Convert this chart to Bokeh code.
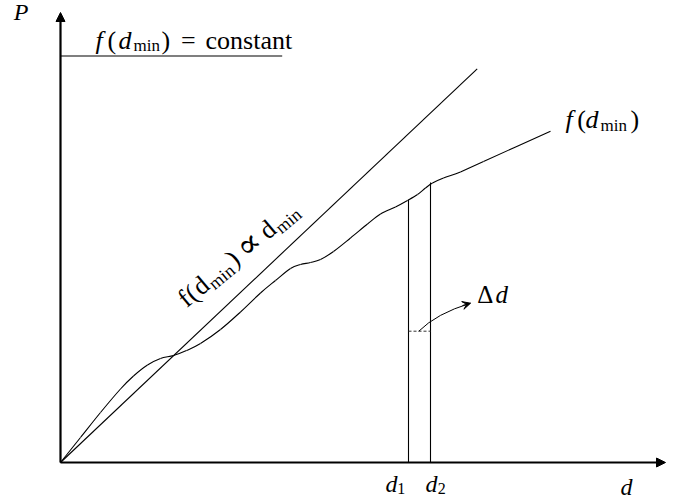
import math
from bokeh.plotting import figure
from bokeh.models import Range1d, Arrow, NormalHead, VeeHead
from bokeh.core.properties import value
from bokeh.embed import file_html
from bokeh.resources import INLINE

# ---- data (d along x, P along y; origin of the axes at 0,0) ----
curve_d = [0, 20, 40, 60, 73, 87, 100, 113, 126, 140, 160, 180, 200, 215,
           230, 240, 250, 260, 273, 290, 307, 320, 335, 347, 357, 365, 372,
           383, 400, 423, 490]
curve_P = [0, 25, 50, 73.5, 86.5, 97.5, 104, 107, 112, 119, 133, 150.5, 169.5, 182,
           194, 198, 200, 203, 211, 224.5, 238.5, 248.5, 255.5, 262, 268, 274.5, 279.5,
           284.5, 290.5, 301, 331.3]
prop_d = [0, 416.7]
prop_P = [0, 393.7]
const_d = [0, 221.7]
const_P = [406.5, 406.5]
d_marks = [348, 370]
d_marks_P = [262.7, 280.0]
delta_P = 131.3
axis_d_end = 605
axis_P_end = 450

FONT = "Liberation Serif"
BASE_FIX = 0.35  # compensates the renderer's alphabetic-baseline offset (per px of font size)

p = figure(width=683, height=501, x_range=Range1d(-60, 623), y_range=Range1d(-39, 462),
           output_backend="svg", toolbar_location=None,
           x_axis_type=None, y_axis_type=None, min_border=0)
p.outline_line_color = None
p.background_fill_color = "white"
p.border_fill_color = "white"

# axes with arrow heads
for xe, ye in [(axis_d_end, 0), (0, axis_P_end)]:
    p.add_layout(Arrow(end=NormalHead(size=9, fill_color="black", line_color="black", line_width=1),
                       x_start=0, y_start=0, x_end=xe, y_end=ye,
                       line_width=2.2, line_color="black"))

# straight lines
p.line(const_d, const_P, line_color="black", line_width=1.1)
p.line(prop_d, prop_P, line_color="black", line_width=1.1)

# smooth curve through the read points (Catmull-Rom drawn as cubic Beziers)
n = len(curve_d)
bx0, by0, bx1, by1, c0x, c0y, c1x, c1y = [], [], [], [], [], [], [], []
for i in range(n - 1):
    i0 = max(i - 1, 0)
    i3 = min(i + 2, n - 1)
    bx0.append(curve_d[i]); by0.append(curve_P[i])
    bx1.append(curve_d[i + 1]); by1.append(curve_P[i + 1])
    c0x.append(curve_d[i] + (curve_d[i + 1] - curve_d[i0]) / 6)
    c0y.append(curve_P[i] + (curve_P[i + 1] - curve_P[i0]) / 6)
    c1x.append(curve_d[i + 1] - (curve_d[i3] - curve_d[i]) / 6)
    c1y.append(curve_P[i + 1] - (curve_P[i3] - curve_P[i]) / 6)
p.bezier(x0=bx0, y0=by0, x1=bx1, y1=by1, cx0=c0x, cy0=c0y, cx1=c1x, cy1=c1y,
         line_color="black", line_width=1.1)

p.segment(x0=d_marks, y0=[0, 0], x1=d_marks, y1=d_marks_P, line_color="black", line_width=1.1)
p.segment(x0=[d_marks[0]], y0=[delta_P], x1=[d_marks[1]], y1=[delta_P],
          line_color="#333333", line_width=1, line_dash="3 2")

# curved arrow pointing to the delta-d label
ax0, ay0 = (d_marks[0] + d_marks[1]) / 2 - 0.7, delta_P
ax1, ay1 = 410, 159.3
p.quadratic(x0=[ax0], y0=[ay0], x1=[ax1], y1=[ay1], cx=[376], cy=[149],
            line_color="black", line_width=1)
p.add_layout(Arrow(end=VeeHead(size=8, line_color="black", fill_color="black", line_width=1),
                   x_start=402, y_start=157, x_end=ax1, y_end=ay1,
                   line_width=1, line_color="black"))


def label(parts, x0, y0, angle_deg=0.0):
    a = math.radians(angle_deg)
    for text, dx, dy, size, style, font in parts:
        dy = dy + BASE_FIX * size
        x = x0 + dx * math.cos(a) - dy * math.sin(a)
        y = y0 + dx * math.sin(a) + dy * math.cos(a)
        p.text(x=[x], y=[y], text=[text], angle=a,
               text_font=value(font), text_font_size=f"{size}px",
               text_font_style=style, text_baseline="alphabetic",
               text_align="left", text_color="black")


label([("P", 0, 0, 24, "italic", FONT)], -46.7, 442)

label([("f", 0, 0, 26, "italic", FONT),
       ("(", 12, 0, 26, "normal", FONT),
       ("d", 23, 0, 26, "italic", FONT),
       ("min", 38, -2.6, 17, "normal", FONT),
       (")", 66, 0, 26, "normal", FONT),
       ("=", 85.6, 0, 26, "normal", FONT),
       ("constant", 110, 0, 26, "normal", FONT)], 35, 413.3)

label([("f", 2, 0, 26, "italic", FONT),
       ("(", 13.7, 0, 26, "normal", FONT),
       ("d", 22, 0, 26, "italic", FONT),
       ("min", 37, -2.5, 17, "normal", FONT),
       (")", 67, 0, 26, "normal", FONT)], 503, 333.7)

label([("Δ", 0, 0, 25, "normal", FONT),
       ("d", 18.3, 0, 25, "italic", FONT)], 416.7, 159.3)

label([("d", 0, 0, 24, "italic", FONT),
       ("1", 11.7, -2.3, 16, "normal", FONT)], 325, -29.7)
label([("d", 0, 0, 24, "italic", FONT),
       ("2", 12.3, -2.3, 16, "normal", FONT)], 365, -29.7)
label([("d", 0, 0, 24, "italic", FONT)], 560, -33)

label([("f", 0, 0, 26, "normal", FONT),
       ("(", 9, 0, 26, "normal", FONT),
       ("d", 19, 0, 26, "normal", FONT),
       ("min", 33, -4, 18, "normal", FONT),
       (")", 63, 0, 26, "normal", FONT),
       ("∝", 77, -1, 34, "normal", "DejaVu Serif"),
       ("d", 106, 0, 26, "normal", FONT),
       ("min", 120, -4, 18, "normal", FONT)], 126.7, 153.7, 40)

open("out.html", "w").write(file_html(p, INLINE))
